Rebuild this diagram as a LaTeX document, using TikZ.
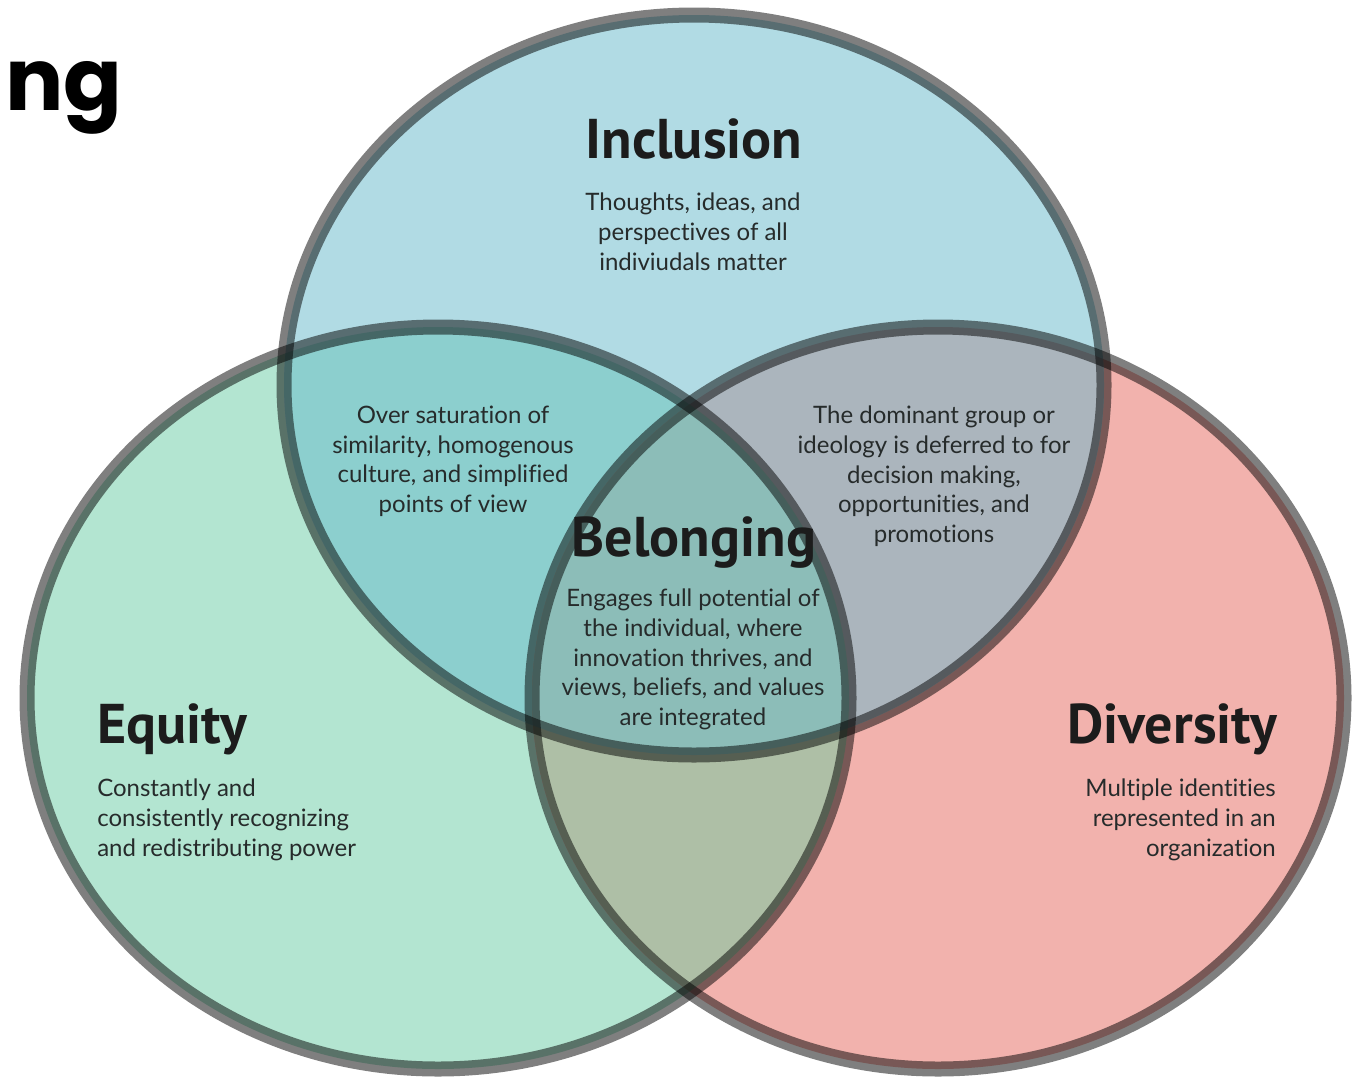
\documentclass[tikz,border=0pt]{standalone}
\usepackage{fontspec}
\setmainfont{Lato}[Ligatures=NoCommon]
\newfontfamily\headfont{PT Sans}
\newfontfamily\ngfont{Poppins}
\definecolor{blueF}{HTML}{B1DBE4}
\definecolor{greenF}{HTML}{B3E5D1}
\definecolor{pinkF}{HTML}{F2B2AD}
\definecolor{tealF}{HTML}{8CCFCE}
\definecolor{grayF}{HTML}{ABB5BD}
\definecolor{oliveF}{HTML}{AEBFA6}
\definecolor{centerF}{HTML}{8CBDB8}
\definecolor{headC}{HTML}{1C1C1C}
\definecolor{bodyC}{HTML}{262B2B}
\tikzset{
  ring/.style={draw=black, draw opacity=0.5, line width=11.25pt},
  headtxt/.style={font=\headfont\bfseries\fontsize{42}{48}\selectfont, text=headC, inner sep=0pt},
  bodytxt/.style={font=\fontsize{18}{22.2}\selectfont, text=bodyC, inner sep=0pt},
}
\newcommand{\ETop}{(694,385) ellipse [x radius=307.5pt, y radius=277.5pt]}
\newcommand{\ELeft}{(438,698) ellipse [x radius=308.25pt, y radius=278.25pt]}
\newcommand{\ERight}{(938,698) ellipse [x radius=304.5pt, y radius=278.25pt]}
\begin{document}
\begin{tikzpicture}[x=0.75pt,y=-0.75pt]
\useasboundingbox (0,0) rectangle (1355,1078);
\fill[white] (0,0) rectangle (1355,1078);
% base fills
\fill[greenF] \ELeft;
\fill[pinkF] \ERight;
\fill[blueF] \ETop;
% pairwise overlaps
\begin{scope}\clip \ETop; \fill[tealF] \ELeft; \end{scope}
\begin{scope}\clip \ETop; \fill[grayF] \ERight; \end{scope}
\begin{scope}\clip \ELeft; \fill[oliveF] \ERight; \end{scope}
\begin{scope}\clip \ETop; \clip \ELeft; \fill[centerF] \ERight; \end{scope}
% outlines
\draw[ring] \ELeft;
\draw[ring] \ERight;
\draw[ring] \ETop;
% cut-off title
\node[anchor=base west, inner sep=0pt, font=\ngfont\bfseries\fontsize{65}{72}\selectfont] (title) at (5,110) {ng};
% Inclusion
\node[headtxt] (inc) at (694,139) {Inclusion};
\node[bodytxt, align=center, anchor=north] (incb) at (693,193) {Thoughts, ideas, and\\perspectives of all\\indiviudals matter};
% overlaps
\node[bodytxt, align=center, anchor=north] (ie) at (453,406) {Over saturation of\\similarity, homogenous\\culture, and simplified\\points of view};
\node[bodytxt, align=center, anchor=north] (id) at (934,406) {The dominant group or\\ideology is deferred to for\\decision making,\\opportunities, and\\promotions};
% Belonging
\node[headtxt] (bel) at (694,543) {Belonging};
\node[bodytxt, align=center, anchor=north] (belb) at (693,589) {Engages full potential of\\the individual, where\\innovation thrives, and\\views, beliefs, and values\\are integrated};
% Equity
\node[headtxt, anchor=west] (eq) at (97,729) {Equity};
\node[bodytxt, align=left, anchor=north west] (eqb) at (97,779) {Constantly and\\consistently recognizing\\and redistributing power};
% Diversity
\node[headtxt, anchor=east] (div) at (1277,729) {Diversity};
\node[bodytxt, align=right, anchor=north east] (divb) at (1276,779) {Multiple identities\\represented in an\\organization};
\end{tikzpicture}
\end{document}
